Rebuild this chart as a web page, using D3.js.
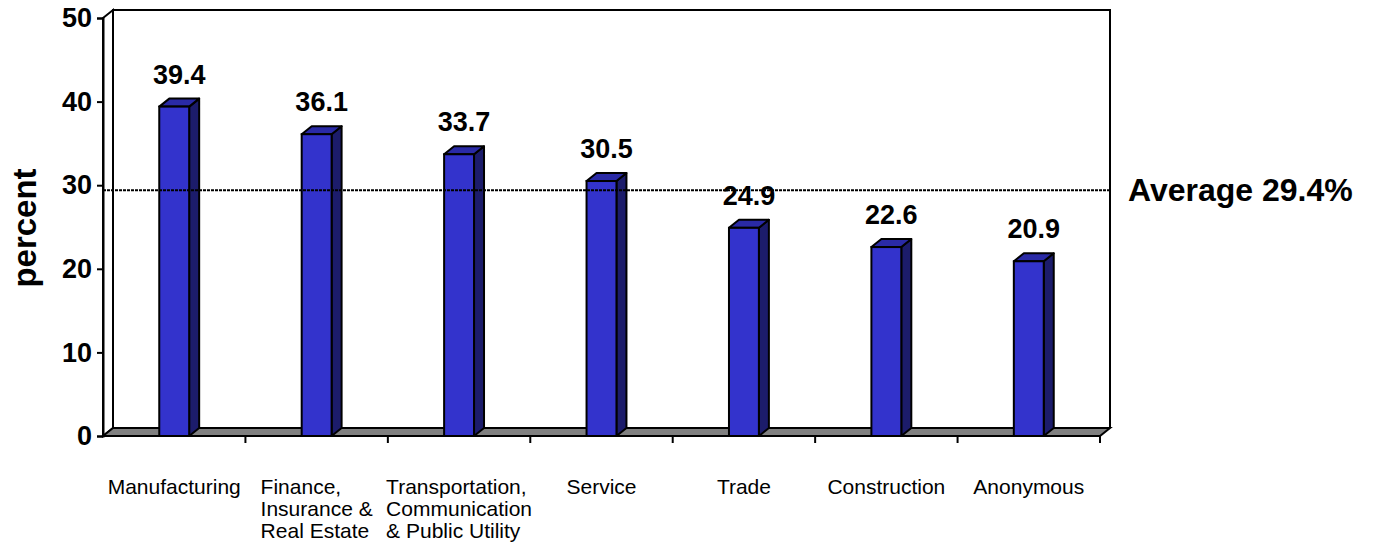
<!DOCTYPE html>
<html>
<head>
<meta charset="utf-8">
<script src="https://cdn.jsdelivr.net/npm/d3@7"></script>
<style>
  body { margin: 0; background: #fff; }
  text { font-family: Arial, "Liberation Sans", sans-serif; }
</style>
</head>
<body>
<div id="chart"></div>
<script>
// data
var categories = ["Manufacturing", "Finance,\nInsurance &\nReal Estate", "Transportation,\nCommunication\n& Public Utility",
                  "Service", "Trade", "Construction", "Anonymous"];
var values = [39.4, 36.1, 33.7, 30.5, 24.9, 22.6, 20.9];
var yTicks = [0, 10, 20, 30, 40, 50];
var average = 29.4;

var W = 1373, H = 550;
var plot = {left: 103, right: 1100, top: 18, bottom: 436};
var depth = {dx: 10, dy: -8};

var svg = d3.select("#chart").append("svg")
    .attr("width", W).attr("height", H);

var x = d3.scaleBand().domain(d3.range(categories.length))
    .range([plot.left, plot.right]);
var y = d3.scaleLinear().domain([0, 50]).range([plot.bottom, plot.top]);

// back walls and floor
var bx0 = plot.left + depth.dx, bx1 = plot.right + depth.dx;
var by0 = plot.top + depth.dy, by1 = plot.bottom + depth.dy;

svg.append("polygon")
  .attr("points", [[plot.left, plot.top], [bx0, by0], [bx0, by1], [plot.left, plot.bottom]].join(" "))
  .attr("fill", "#fff").attr("stroke", "#000").attr("stroke-width", 2);

svg.append("polyline")
  .attr("points", [[bx0, by1], [bx0, by0], [bx1, by0], [bx1, by1]].join(" "))
  .attr("fill", "none").attr("stroke", "#000").attr("stroke-width", 2);

svg.append("polygon")
  .attr("points", [[plot.left, plot.bottom], [plot.right, plot.bottom], [bx1, by1], [bx0, by1]].join(" "))
  .attr("fill", "#808080").attr("stroke", "#000").attr("stroke-width", 2);

// Y axis
var yAxis = svg.append("g")
  .attr("transform", "translate(" + plot.left + ",0)")
  .call(d3.axisLeft(y).tickValues(yTicks).tickSize(6).tickPadding(5));
yAxis.select(".domain").attr("stroke-width", 2);
yAxis.selectAll(".tick line").attr("stroke-width", 2);
yAxis.selectAll(".tick text")
  .style("font-family", "Arial, 'Liberation Sans', sans-serif")
  .style("font-size", "27px").style("font-weight", "bold").attr("fill", "#000");

// category tick marks on the floor edge
var bounds = d3.range(categories.length + 1).map(function(i) {
  return i < categories.length ? x(i) : plot.right;
});
svg.selectAll(".xtick").data(bounds.slice(1)).enter().append("line")
  .attr("class", "xtick")
  .attr("x1", function(d) { return d; }).attr("x2", function(d) { return d; })
  .attr("y1", plot.bottom).attr("y2", plot.bottom + 7)
  .attr("stroke", "#000").attr("stroke-width", 2);

// 3D columns
var barW = x.bandwidth() * 0.21;
var bars = svg.selectAll(".bar").data(values).enter().append("g").attr("class", "bar");

bars.append("polygon") // side
  .attr("points", function(d, i) {
    var x1 = x(i) + x.bandwidth() / 2 + barW / 2;
    return [[x1, y(d)], [x1 + depth.dx, y(d) + depth.dy], [x1 + depth.dx, y(0) + depth.dy], [x1, y(0)]].join(" ");
  })
  .attr("fill", "#1c1c6b").attr("stroke", "#000").attr("stroke-width", 2).attr("stroke-linejoin", "round");

bars.append("polygon") // top
  .attr("points", function(d, i) {
    var x0 = x(i) + x.bandwidth() / 2 - barW / 2, x1 = x0 + barW;
    return [[x0, y(d)], [x0 + depth.dx, y(d) + depth.dy], [x1 + depth.dx, y(d) + depth.dy], [x1, y(d)]].join(" ");
  })
  .attr("fill", "#2a2aa6").attr("stroke", "#000").attr("stroke-width", 2).attr("stroke-linejoin", "round");

bars.append("rect") // front
  .attr("x", function(d, i) { return x(i) + x.bandwidth() / 2 - barW / 2; })
  .attr("y", function(d) { return y(d); })
  .attr("width", barW)
  .attr("height", function(d) { return y(0) - y(d); })
  .attr("fill", "#3333cc").attr("stroke", "#000").attr("stroke-width", 2);

// value labels
bars.append("text")
  .attr("x", function(d, i) { return x(i) + x.bandwidth() / 2 + depth.dx / 2; })
  .attr("y", function(d) { return y(d) - 23; })
  .attr("text-anchor", "middle")
  .style("font-size", "27px").style("font-weight", "bold")
  .text(function(d) { return d.toFixed(1); });

// average line
svg.append("line")
  .attr("x1", plot.left).attr("x2", bx1)
  .attr("y1", y(average)).attr("y2", y(average))
  .attr("stroke", "#000").attr("stroke-width", 2).attr("stroke-dasharray", "3,1");

svg.append("text")
  .attr("x", 1128).attr("y", y(average) + 11)
  .style("font-size", "32px").style("font-weight", "bold")
  .text("Average " + average + "%");

// category labels, left-aligned lines in a block centred on the band
svg.selectAll(".cat").data(categories).enter().append("text")
  .attr("class", "cat")
  .style("font-size", "21px")
  .each(function(d, i) {
    var t = d3.select(this);
    d.split("\n").forEach(function(line, k) {
      t.append("tspan").attr("x", 0).attr("dy", k === 0 ? 0 : 22).text(line);
    });
    var w = this.getBBox().width;
    t.attr("transform", "translate(" + (x(i) + x.bandwidth() / 2 - w / 2) + ",494)");
  });

// y axis title
svg.append("text")
  .attr("transform", "translate(36,228) rotate(-90)")
  .attr("text-anchor", "middle")
  .style("font-size", "33px").style("font-weight", "bold")
  .text("percent");
</script>
</body>
</html>
